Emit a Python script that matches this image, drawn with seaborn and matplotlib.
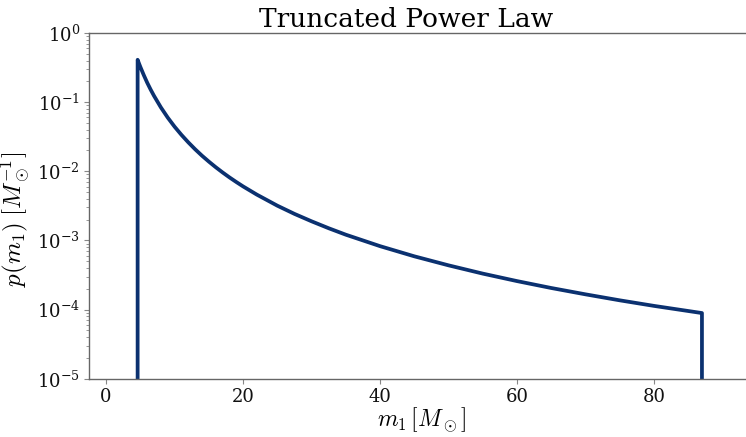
import numpy as np
import pandas as pd
import matplotlib
matplotlib.use("Agg")
import matplotlib.pyplot as plt
import seaborn as sns
from matplotlib.ticker import LogLocator, FixedLocator

# Values
m1 = [4.6, 4.6, 4.8, 5.0, 5.5, 6.0, 6.5, 7.0, 8.0, 9.0, 10.0, 11.0, 12.0, 13.0,
      14.0, 15.0, 16.0, 17.0, 18.0, 19.0, 20.0, 22.0, 25.0, 27.5, 30.0, 32.5,
      35.0, 40.0, 45.0, 50.0, 55.0, 60.0, 65.0, 70.0, 75.0, 80.0, 87.0, 87.0]
p_m1 = [1e-8, 0.41, 0.363, 0.323, 0.246, 0.191, 0.152, 0.123, 0.0838, 0.0597,
        0.0441, 0.0336, 0.0262, 0.0208, 0.0168, 0.0138, 0.01146, 0.00963,
        0.00817, 0.0070, 0.00604, 0.0046, 0.00318, 0.00242, 0.00189, 0.0015,
        0.00121, 8.26e-4, 5.89e-4, 4.36e-4, 3.31e-4, 2.58e-4, 2.05e-4,
        1.66e-4, 1.36e-4, 1.13e-4, 8.9e-5, 1e-8]
x_ticks = [0, 20, 40, 60, 80]
y_ticks = [1e-5, 1e-4, 1e-3, 1e-2, 1e-1, 1e0]

sns.set_style("white")
plt.rcParams["font.family"] = ["DejaVu Serif"]
plt.rcParams["mathtext.fontset"] = "cm"
plt.rcParams["axes.unicode_minus"] = False
plt.rcParams["text.color"] = "black"
plt.rcParams["axes.labelcolor"] = "black"

df = pd.DataFrame({"m1": m1, "p": p_m1})

fig = plt.figure(figsize=(7.46, 4.37), dpi=100)
ax = fig.add_axes([89/746, 58.3/437, 665/746, 345.7/437])

sns.lineplot(data=df, x="m1", y="p", sort=False, ax=ax, color="#0b3170",
             linewidth=2.7, estimator=None)
ax.set_yscale("log")
ax.set_xlim(-2.5, 94.6)
ax.set_ylim(1e-5, 1e0)
ax.xaxis.set_major_locator(FixedLocator(x_ticks))
ax.yaxis.set_major_locator(FixedLocator(y_ticks))
ax.yaxis.set_minor_locator(LogLocator(base=10, subs=np.arange(2, 10), numticks=20))

for s in ax.spines.values():
    s.set_color("#666666")
    s.set_linewidth(1.0)

ax.tick_params(axis="both", which="both", bottom=True, left=True)
ax.tick_params(axis="both", which="major", labelsize=13, color="#888888",
               length=3.5, width=0.8, labelcolor="#111111", pad=3)
ax.tick_params(axis="y", which="minor", color="#888888", length=2, width=0.6)

ax.set_xlabel(r"$m_1\,[M_\odot]$", fontsize=17, labelpad=0)
ax.set_ylabel(r"$p(m_1)\;[M_\odot^{-1}]$", fontsize=18)
ax.yaxis.set_label_coords(-0.084, 0.462)
ax.set_title("Truncated Power Law", fontsize=19, x=(406-89)/665, pad=4,
             color="black")

fig.savefig("out.png", dpi=100)
